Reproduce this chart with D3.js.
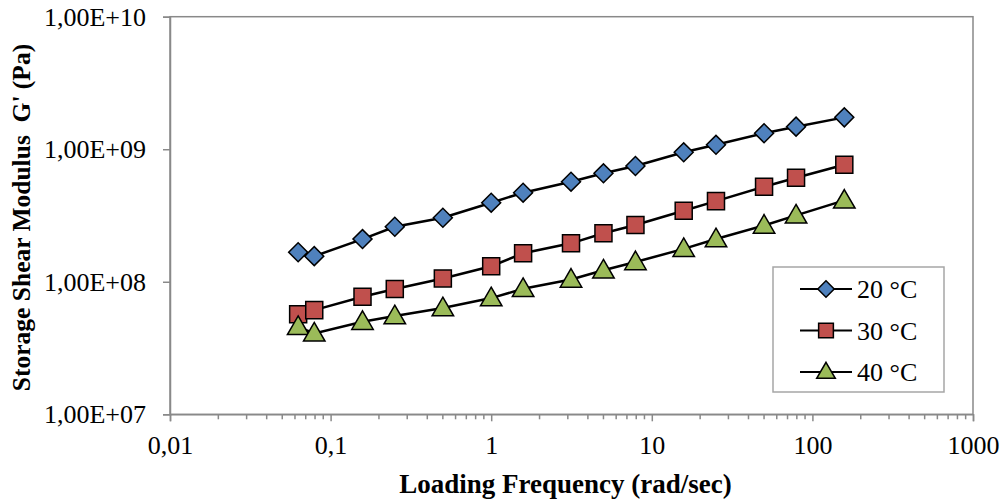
<!DOCTYPE html>
<html lang="en">
  <head>
    <meta charset="UTF-8" />
    <title>Storage Shear Modulus vs Loading Frequency</title>
    <script src="https://d3js.org/d3.v7.min.js"></script>
    <style>
      body {
        margin: 0;
        background: #fff;
      }
      svg {
        display: block;
        font-family: "Liberation Serif", "Times New Roman", serif;
      }
    </style>
  </head>
  <body>
    <svg width="1003" height="502"></svg>
    <script>
      // Data
      const frequency = [0.0628, 0.0791, 0.158, 0.251, 0.5, 1, 1.58, 3.14, 5, 7.91, 15.8, 25.1, 50, 79.1, 158];
      const g20 = [1.67e8, 1.56e8, 2.1e8, 2.6e8, 3.04e8, 3.95e8, 4.7e8, 5.69e8, 6.58e8, 7.47e8, 9.48e8, 1.08e9, 1.32e9, 1.48e9, 1.74e9];
      const g30 = [5.68e7, 6.11e7, 7.71e7, 8.81e7, 1.06e8, 1.31e8, 1.64e8, 1.95e8, 2.32e8, 2.68e8, 3.43e8, 4.06e8, 5.21e8, 6.1e8, 7.64e8];
      const g40 = [4.57e7, 4.08e7, 4.99e7, 5.51e7, 6.33e7, 7.53e7, 8.85e7, 1.04e8, 1.22e8, 1.41e8, 1.77e8, 2.1e8, 2.66e8, 3.17e8, 4.11e8];
      const seriesNames = ["20 °C", "30 °C", "40 °C"];
      const xTicks = [0.01, 0.1, 1, 10, 100, 1000];
      const xTickLabels = ["0,01", "0,1", "1", "10", "100", "1000"];
      const yTicks = [1e7, 1e8, 1e9, 1e10];
      const yTickLabels = ["1,00E+07", "1,00E+08", "1,00E+09", "1,00E+10"];

      const colors = ["#4F81BD", "#C0504D", "#9BBB59"];
      // diamond is a square turned 45 degrees
      const shapes = [d3.symbolSquare, d3.symbolSquare, d3.symbolTriangle];
      const turns = [45, 0, 0];
      const sizes = [180, 290, 200];

      const margin = { top: 16.7, right: 30, bottom: 88, left: 170 };
      const width = 973 - margin.left;
      const height = 414.3 - margin.top;

      const svg = d3.select("svg");
      const g = svg.append("g").attr("transform", `translate(${margin.left},${margin.top})`);

      const x = d3.scaleLog().domain([0.01, 1000]).range([0, width]);
      const y = d3.scaleLog().domain([1e7, 1e10]).range([height, 0]);

      const axisColor = "#898989";

      // plot border (top and right)
      g.append("rect")
        .attr("width", width)
        .attr("height", height)
        .attr("fill", "none")
        .attr("stroke", axisColor)
        .attr("stroke-width", 1.5);

      // minor x ticks
      const minor = [];
      for (let e = -2; e < 3; e++) {
        for (let m = 2; m <= 9; m++) minor.push(m * Math.pow(10, e));
      }
      g.selectAll(".minor")
        .data(minor)
        .enter()
        .append("line")
        .attr("x1", (d) => x(d))
        .attr("x2", (d) => x(d))
        .attr("y1", height)
        .attr("y2", height + 5)
        .attr("stroke", axisColor)
        .attr("stroke-width", 1.5);

      // X axis
      const xAxis = g
        .append("g")
        .attr("transform", `translate(0,${height})`)
        .call(
          d3.axisBottom(x)
            .tickValues(xTicks)
            .tickFormat((d, i) => xTickLabels[i])
            .tickSize(7)
            .tickPadding(14)
        );
      xAxis.select(".domain").attr("stroke", axisColor).attr("stroke-width", 1.5);
      xAxis.selectAll(".tick line").attr("stroke", axisColor).attr("stroke-width", 1.5);
      xAxis.selectAll("text")
        .attr("fill", "#000")
        .style("font-size", "26px")
        .style("font-family", "Liberation Serif, serif");

      // Y axis
      const yAxis = g
        .append("g")
        .call(
          d3.axisLeft(y)
            .tickValues(yTicks)
            .tickFormat((d, i) => yTickLabels[i])
            .tickSize(7)
            .tickPadding(17)
        );
      yAxis.select(".domain").attr("stroke", axisColor).attr("stroke-width", 1.5);
      yAxis.selectAll(".tick line").attr("stroke", axisColor).attr("stroke-width", 1.5);
      yAxis.selectAll("text")
        .attr("fill", "#000")
        .style("font-size", "26px")
        .style("font-family", "Liberation Serif, serif");

      // series
      const series = [g20, g30, g40].map((vals, i) => ({
        name: seriesNames[i],
        values: vals.map((v, j) => ({ f: frequency[j], v: v })),
      }));

      const line = d3
        .line()
        .x((d) => x(d.f))
        .y((d) => y(d.v));

      series.forEach((s) => {
        g.append("path")
          .datum(s.values)
          .attr("fill", "none")
          .attr("stroke", "#000")
          .attr("stroke-width", 2.5)
          .attr("d", line);
      });

      series.forEach((s, i) => {
        g.selectAll(".pt" + i)
          .data(s.values)
          .enter()
          .append("path")
          .attr("d", d3.symbol().type(shapes[i]).size(sizes[i]))
          .attr("transform", (d) => `translate(${x(d.f)},${y(d.v) + (i === 2 ? 1.5 : 0)}) rotate(${turns[i]})`)
          .attr("fill", colors[i])
          .attr("stroke", "#000")
          .attr("stroke-width", 1.5);
      });

      // axis titles
      svg.append("text")
        .attr("x", (170 + 973) / 2 - 6)
        .attr("y", 493)
        .attr("text-anchor", "middle")
        .style("font-size", "27px")
        .style("font-weight", "bold")
        .text("Loading Frequency (rad/sec)");

      svg.append("text")
        .attr("transform", `translate(30,${(16.7 + 414.3) / 2 + 2}) rotate(-90)`)
        .attr("text-anchor", "middle")
        .style("font-size", "25.5px")
        .style("font-weight", "bold")
        .style("white-space", "pre")
        .text("Storage Shear Modulus  G' (Pa)");

      // legend
      const legend = svg.append("g").attr("transform", "translate(773,267)");
      legend.append("rect")
        .attr("width", 171)
        .attr("height", 125)
        .attr("fill", "#fff")
        .attr("stroke", "#a6a6a6")
        .attr("stroke-width", 1.5);

      series.forEach((s, i) => {
        const ly = 22 + i * 41.5;
        legend.append("line")
          .attr("x1", 27)
          .attr("x2", 79)
          .attr("y1", ly)
          .attr("y2", ly)
          .attr("stroke", "#000")
          .attr("stroke-width", 2);
        legend.append("path")
          .attr("d", d3.symbol().type(shapes[i]).size(sizes[i] * 0.75))
          .attr("transform", `translate(53,${ly + (i === 2 ? 1 : 0)}) rotate(${turns[i]})`)
          .attr("fill", colors[i])
          .attr("stroke", "#000")
          .attr("stroke-width", 1.5);
        legend.append("text")
          .attr("x", 84)
          .attr("y", ly + 9)
          .style("font-size", "26px")
          .text(s.name);
      });
    </script>
  </body>
</html>
